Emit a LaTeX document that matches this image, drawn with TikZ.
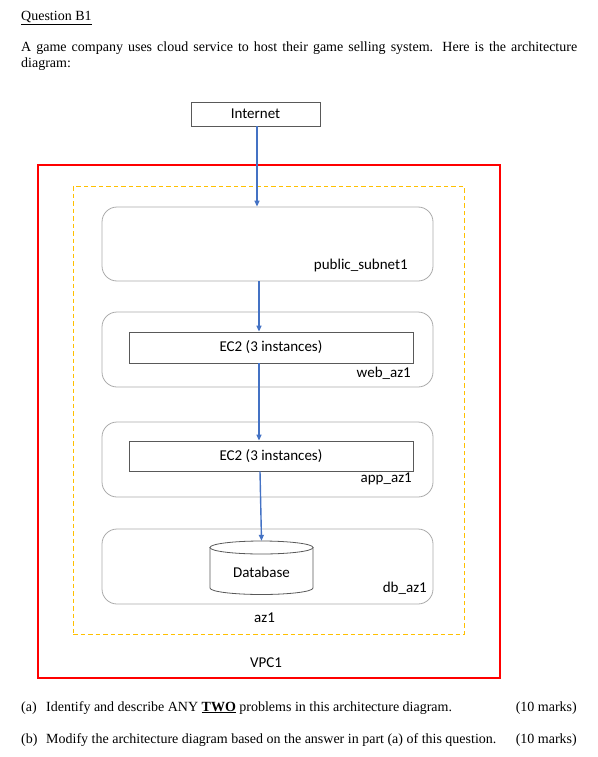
\documentclass[tikz,border=0pt]{standalone}
\usepackage{fontspec}
\setmainfont{Liberation Serif}
\newfontfamily\carlito{Carlito}
\usetikzlibrary{arrows.meta}
\definecolor{arrblue}{HTML}{4472C4}
\definecolor{azgold}{HTML}{FFC000}
\definecolor{subgray}{HTML}{ABABAB}
\definecolor{boxgray}{HTML}{595959}
\begin{document}
\begin{tikzpicture}[x=1pt,y=-1pt,
  body/.style={font=\fontsize{14}{16}\selectfont, inner sep=0pt},
  diag/.style={font=\carlito\fontsize{15}{18}\selectfont, inner sep=0pt},
  subnet/.style={draw=subgray, line width=0.8pt, rounded corners=15pt, minimum width=331pt, inner sep=0pt},
  plainbox/.style={draw=boxgray, line width=0.8pt, fill=white, inner sep=0pt, diag},
  arr/.style={draw=arrblue, line width=1.4pt, -{Triangle[length=6pt,width=5pt]}},
  cyl/.style={draw=boxgray, line width=0.8pt, fill=white}
]
\useasboundingbox (0,0) rectangle (597,757);
% header text
\node[body, anchor=base west] (title) at (21,21) {\underline{Question B1}};
\node[body, anchor=base west] (intro1) at (21,52) {\makebox[556pt][s]{A game company uses cloud service to host their game selling system. Here is the architecture}};
\node[body, anchor=base west] (intro2) at (21,68) {diagram:};
% containers
\node[draw=red, line width=1.6pt, minimum width=462pt, minimum height=513pt, inner sep=0pt] (vpc) at (269,421.5) {};
\node[draw=azgold, line width=1pt, dash pattern=on 4.5pt off 3pt, minimum width=391pt, minimum height=448pt, inner sep=0pt] (az) at (268.5,410) {};
\node[subnet, minimum height=74pt] (pub) at (267.5,244) {};
\node[subnet, minimum height=75pt] (web) at (267.5,349.5) {};
\node[subnet, minimum height=75pt] (app) at (267.5,459.5) {};
\node[subnet, minimum height=75pt] (dbz) at (267.5,566.5) {};
% boxes
\node[plainbox, minimum width=129pt, minimum height=24pt] (inet) at (255.5,114) {Internet};
\node[plainbox, minimum width=284pt, minimum height=31pt] (ec2w) at (271,347.5) {EC2 (3 instances)};
\node[plainbox, minimum width=284pt, minimum height=30pt] (ec2a) at (271,456) {EC2 (3 instances)};
% database cylinder
\node[minimum width=103pt, minimum height=53pt, inner sep=0pt] (dbn) at (261.5,567.5) {};
\path[cyl] (210,547.5) -- (210,588) arc[start angle=180, end angle=360, x radius=51.5pt, y radius=6.5pt] -- (313,547.5) -- cycle;
\path[cyl] (261.5,547.5) ellipse[x radius=51.5pt, y radius=6.5pt];
\node[diag] (dbtext) at (261.5,572) {Database};
% labels
\node[diag, anchor=base east] (lpub) at (408,269) {public\_subnet1};
\node[diag, anchor=base east] (lweb) at (411,377) {web\_az1};
\node[diag, anchor=base east] (lapp) at (412,482) {app\_az1};
\node[diag, anchor=base east] (ldb) at (427,592) {db\_az1};
\node[diag, anchor=base] (laz) at (264.5,622) {az1};
\node[diag, anchor=base] (lvpc) at (266,667) {VPC1};
% arrows
\draw[arr] ([xshift=1.5pt]inet.south) -- ([xshift=1.5pt]inet.south |- pub.north);
\draw[arr] ([xshift=-8.5pt]pub.south) -- ([xshift=-8.5pt]pub.south |- ec2w.north);
\draw[arr] ([xshift=-12pt]ec2w.south) -- ([xshift=-12pt]ec2w.south |- ec2a.north);
\draw[arr] ([xshift=-11pt]ec2a.south) -- (dbn.north);
% questions
\node[body, anchor=base west] (qa) at (21,711) {(a)};
\node[body, anchor=base west] (qatext) at (46,711) {Identify and describe ANY \underline{\textbf{TWO}} problems in this architecture diagram.};
\node[body, anchor=base east] (qamarks) at (577,711) {(10 marks)};
\node[body, anchor=base west] (qb) at (21,743) {(b)};
\node[body, anchor=base west] (qbtext) at (46,743) {Modify the architecture diagram based on the answer in part (a) of this question.};
\node[body, anchor=base east] (qbmarks) at (577,743) {(10 marks)};
\end{tikzpicture}
\end{document}
